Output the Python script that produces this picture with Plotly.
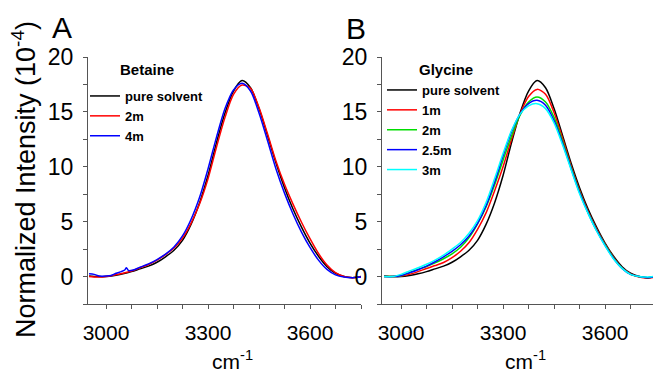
import plotly.graph_objects as go

# ---------------- data ----------------
wavenumber = [2950, 2975, 3000, 3025, 3050, 3075, 3100, 3125, 3150, 3175, 3200, 3225,
              3250, 3275, 3300, 3325, 3350, 3375, 3400, 3425, 3450, 3475, 3500, 3525,
              3550, 3575, 3600, 3625, 3650, 3675, 3700, 3725, 3750]

pure_solvent = [0.05, 0.0, 0.0, 0.1, 0.25, 0.45, 0.7, 0.95, 1.3, 1.8, 2.4, 3.3,
                4.75, 6.7, 9.2, 12.2, 14.9, 16.9, 17.85, 17.2, 15.3, 12.85, 10.35, 8.1,
                6.15, 4.5, 3.05, 1.85, 0.9, 0.3, 0.0, -0.1, 0.0]

# Betaine
betaine_2m = [0.0, -0.05, 0.0, 0.15, 0.3, 0.5, 0.8, 1.1, 1.5, 2.0, 2.6, 3.5,
              4.85, 6.6, 8.9, 11.8, 14.5, 16.6, 17.45, 17.15, 15.4, 13.0, 10.5, 8.4,
              6.6, 4.95, 3.45, 2.1, 1.05, 0.35, 0.0, -0.1, -0.05]

betaine_4m_x = [2950, 2965, 2980, 3000, 3015, 3030, 3045, 3055, 3060, 3066, 3080, 3100,
                3125, 3150, 3175, 3200, 3225, 3250, 3275, 3300, 3325, 3350, 3375, 3400,
                3425, 3450, 3475, 3500, 3525, 3550, 3575, 3600, 3625, 3650, 3675, 3700,
                3725, 3750]
betaine_4m = [0.25, 0.2, 0.05, 0.05, 0.1, 0.3, 0.45, 0.6, 0.8, 0.55, 0.6, 0.85,
              1.15, 1.55, 2.05, 2.7, 3.7, 5.2, 7.2, 9.8, 12.7, 15.3, 17.0, 17.6,
              16.9, 14.9, 12.4, 9.8, 7.6, 5.7, 4.05, 2.65, 1.5, 0.65, 0.15, -0.05,
              -0.1, -0.05]

# Glycine
glycine_1m = [0.0, 0.0, 0.05, 0.2, 0.45, 0.74, 1.0, 1.28, 1.72, 2.3, 3.1, 4.3,
              5.8, 7.8, 10.0, 12.5, 14.8, 16.4, 17.05, 16.6, 14.95, 12.6, 10.1, 7.85,
              5.95, 4.35, 2.95, 1.75, 0.8, 0.25, -0.05, -0.15, -0.05]
glycine_2m = [0.0, 0.0, 0.08, 0.35, 0.65, 0.92, 1.24, 1.62, 2.07, 2.67, 3.55, 4.8,
              6.35, 8.35, 10.6, 12.8, 14.7, 15.9, 16.35, 15.9, 14.5, 12.35, 9.95, 7.75,
              5.85, 4.25, 2.9, 1.7, 0.78, 0.2, 0.0, -0.1, 0.0]
glycine_2_5m = [0.0, 0.0, 0.1, 0.35, 0.62, 0.95, 1.35, 1.8, 2.3, 2.9, 3.7, 4.85,
                6.45, 8.6, 11.0, 13.2, 14.8, 15.75, 16.05, 15.6, 14.2, 12.15, 9.85, 7.65,
                5.8, 4.2, 2.85, 1.65, 0.75, 0.2, 0.0, -0.1, 0.0]
glycine_3m = [0.0, 0.0, 0.2, 0.5, 0.8, 1.12, 1.5, 1.95, 2.5, 3.1, 3.95, 5.1,
              6.75, 8.9, 11.2, 13.3, 14.8, 15.55, 15.75, 15.3, 14.0, 12.0, 9.75, 7.55,
              5.75, 4.15, 2.8, 1.6, 0.75, 0.2, 0.0, -0.05, 0.05]

x_ticks = [3000, 3300, 3600]
y_ticks = [0, 5, 10, 15, 20]

FONT = "Arial, Liberation Sans, sans-serif"
W, H = 653, 373

fig = go.Figure()

def add(x, y, name, color, xa, ya, legend):
    fig.add_trace(go.Scatter(
        x=x, y=y, name=name, mode="lines",
        line=dict(color=color, width=1.5, shape="spline", smoothing=0.8),
        xaxis=xa, yaxis=ya, legend=legend))

# Panel A
add(wavenumber, pure_solvent, "pure solvent", "#000000", "x", "y", "legend")
add(wavenumber, betaine_2m, "2m", "#ff0000", "x", "y", "legend")
add(betaine_4m_x, betaine_4m, "4m", "#0000ff", "x", "y", "legend")
# Panel B
add(wavenumber, pure_solvent, "pure solvent", "#000000", "x2", "y2", "legend2")
add(wavenumber, glycine_1m, "1m", "#ff0000", "x2", "y2", "legend2")
add(wavenumber, glycine_2m, "2m", "#00dd00", "x2", "y2", "legend2")
add(wavenumber, glycine_2_5m, "2.5m", "#0000ff", "x2", "y2", "legend2")
add(wavenumber, glycine_3m, "3m", "#00ffff", "x2", "y2", "legend2")

axis_common = dict(showgrid=False, zeroline=False, showline=True, linecolor="#555555",
                   linewidth=1.2, ticks="outside", ticklen=4, tickcolor="#555555",
                   tickwidth=1, automargin=False)

xa = dict(axis_common, tickvals=x_ticks, tickfont=dict(family=FONT, size=21, color="#000"),
          minor=dict(dtick=75, tick0=3000, ticks="outside", ticklen=4, tickcolor="#555555"),
          ticklabelstandoff=6)
ya = dict(axis_common, tickvals=y_ticks, range=[-2.5, 20],
          tickfont=dict(family=FONT, size=23, color="#000"),
          minor=dict(dtick=2.5, tick0=0, ticks="outside", ticklen=4, tickcolor="#555555"),
          ticklabelstandoff=5)

y_dom = [1 - 304 / H, 1 - 57 / H]

LEGFONT = dict(family=FONT, size=13, color="#000", weight="bold")

fig.update_layout(
    width=W, height=H, margin=dict(l=0, r=0, t=0, b=0, autoexpand=False),
    paper_bgcolor="white", plot_bgcolor="white",
    xaxis=dict(xa, domain=[88 / W, 361 / W], range=[2947, 3750], anchor="y"),
    yaxis=dict(ya, domain=y_dom, anchor="x"),
    xaxis2=dict(xa, domain=[382 / W, 1.0], range=[2944, 3741], anchor="y2"),
    yaxis2=dict(ya, domain=y_dom, anchor="x2"),
    legend=dict(x=85 / W, y=1 - 81 / H, xanchor="left", yanchor="top",
                bgcolor="rgba(0,0,0,0)", borderwidth=0, tracegroupgap=0,
                font=LEGFONT),
    legend2=dict(x=382 / W, y=1 - 75 / H, xanchor="left", yanchor="top",
                 bgcolor="rgba(0,0,0,0)", borderwidth=0, tracegroupgap=0,
                 font=LEGFONT),
    showlegend=True,
)

def ann(text, px, py, size, bold=False, angle=0):
    fig.add_annotation(text=(f"<b>{text}</b>" if bold else text), x=px / W, y=1 - py / H,
                       xref="paper", yref="paper", xanchor="center", yanchor="middle",
                       showarrow=False, textangle=angle,
                       font=dict(family=FONT, size=size, color="#000"))

ann("A", 62, 27, 30)
ann("B", 356, 28, 30)
ann("Betaine", 146.5, 69, 15, bold=True)
ann("Glycine", 446, 69, 15, bold=True)
ann("Normalized Intensity (10<sup>-4</sup>)", 24, 180, 27, angle=-90)
ann("cm<sup>-1</sup>", 232, 360, 21)
ann("cm<sup>-1</sup>", 525, 360, 21)

fig.write_html("out.html")
